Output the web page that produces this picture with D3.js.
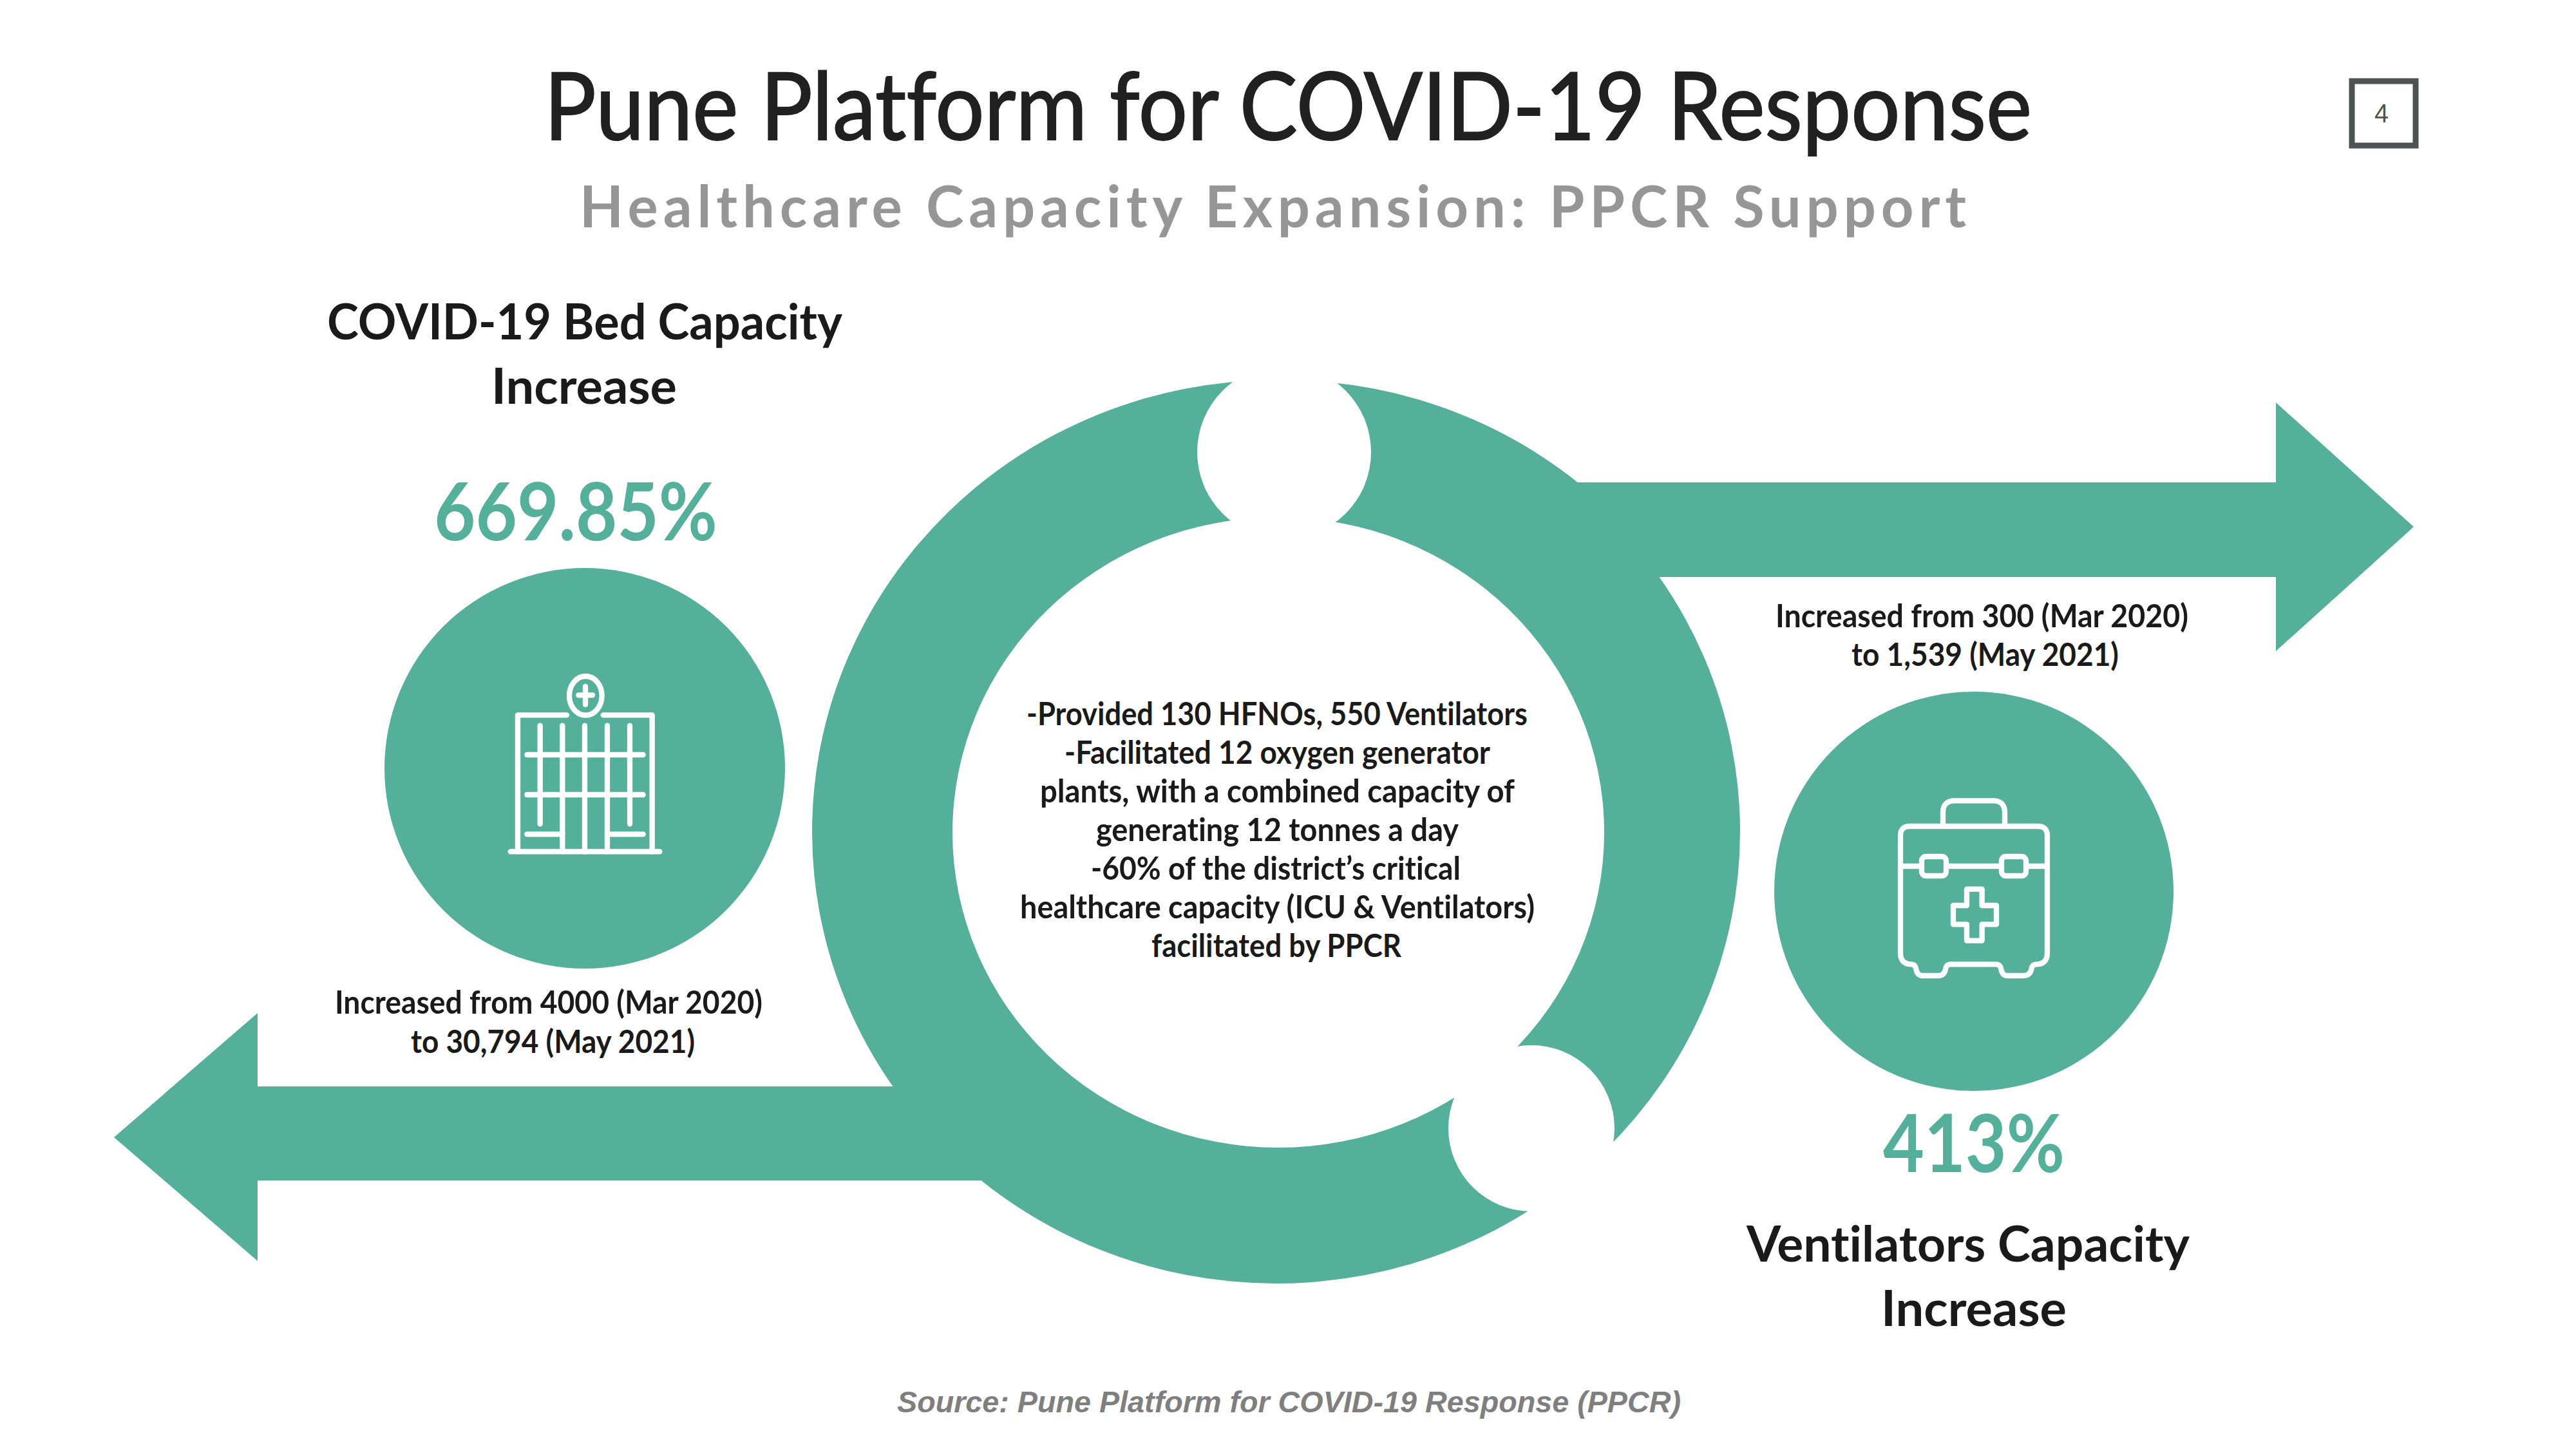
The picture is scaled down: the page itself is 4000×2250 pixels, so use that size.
<!DOCTYPE html>
<html>
<head>
<meta charset="utf-8">
<script src="https://cdn.jsdelivr.net/npm/d3@7/dist/d3.min.js"></script>
<style>
html, body { margin: 0; padding: 0; background: #fff; }
svg { display: block; }
text { font-variant-ligatures: none; }
</style>
</head>
<body>
<svg id="slide" width="4000" height="2250"></svg>
<script>
// slide content
var titleText = "Pune Platform for COVID-19 Response";
var subtitleText = "Healthcare Capacity Expansion: PPCR Support";
var pageNumber = "4";
var sourceText = "Source: Pune Platform for COVID-19 Response (PPCR)";
var bedHeading = ["COVID-19 Bed Capacity", "Increase"];
var bedPercent = "669.85%";
var bedDetail = ["Increased from 4000 (Mar 2020)", "to 30,794 (May 2021)"];
var ventHeading = ["Ventilators Capacity", "Increase"];
var ventPercent = "413%";
var ventDetail = ["Increased from 300 (Mar 2020)", "to 1,539 (May 2021)"];
var centerLines = [
    "-Provided 130 HFNOs, 550 Ventilators",
    "-Facilitated 12 oxygen generator",
    "plants, with a combined capacity of",
    "generating 12 tonnes a day",
    "-60% of the district\u2019s critical",
    "healthcare capacity (ICU & Ventilators)",
    "facilitated by PPCR"
];

var teal = "#54af9b";
var dark = "#1a1a1a";
var svg = d3.select("#slide");
var line = d3.line();

// x0 and x1 are the measured left and right ends of the text
function label(str, x0, x1, baseline, size, weight, fill, family, style) {
    return svg.append("text")
        .attr("x", x0)
        .attr("y", baseline)
        .attr("textLength", x1 - x0)
        .attr("lengthAdjust", "spacingAndGlyphs")
        .attr("font-family", family || "Lato")
        .attr("font-size", size)
        .attr("font-weight", weight)
        .attr("font-style", style || "normal")
        .attr("fill", fill)
        .text(str);
}

// upper right of the ring bulges a little more than the rest
svg.append("clipPath").attr("id", "upperRight")
    .append("rect").attr("x", 1994).attr("y", 500).attr("width", 900).attr("height", 396);

// arrows go under the ring
svg.append("path").attr("fill", teal)
    .attr("d", line([[2400, 749], [3534, 749], [3534, 625], [3748, 818], [3534, 1011], [3534, 896], [2400, 896]]) + "Z");
svg.append("path").attr("fill", teal)
    .attr("d", line([[1600, 1687], [400, 1687], [400, 1573], [177, 1766], [400, 1958], [400, 1833], [1600, 1833]]) + "Z");

// ring and the two white bites
svg.append("ellipse").attr("cx", 1981.5).attr("cy", 1291.5).attr("rx", 720.5).attr("ry", 701.5).attr("fill", teal);
svg.append("ellipse").attr("cx", 1993).attr("cy", 1291.5).attr("rx", 720.5).attr("ry", 701.5).attr("fill", teal)
    .attr("clip-path", "url(#upperRight)");
svg.append("ellipse").attr("cx", 1985).attr("cy", 1292.5).attr("rx", 506).attr("ry", 489.5).attr("fill", "#fff");
svg.append("circle").attr("cx", 1994).attr("cy", 702).attr("r", 135).attr("fill", "#fff");
svg.append("circle").attr("cx", 2378).attr("cy", 1752).attr("r", 129).attr("fill", "#fff");

// icon discs
svg.append("circle").attr("cx", 908).attr("cy", 1193).attr("r", 311).attr("fill", teal);
svg.append("circle").attr("cx", 3065).attr("cy", 1384).attr("r", 310).attr("fill", teal);

// hospital icon
var hosp = svg.append("g")
    .attr("transform", "translate(700,1000) scale(0.3333)")
    .attr("fill", "none").attr("stroke", "#fff").attr("stroke-width", 25)
    .attr("stroke-linecap", "round").attr("stroke-linejoin", "round");
var hospLines = [
    [[540, 331], [312, 331], [312, 967]],
    [[710, 331], [938, 331], [938, 967]],
    [[278, 967], [973, 967]],
    [[416, 380], [416, 838]],
    [[834, 380], [834, 838]],
    [[520, 380], [520, 967]],
    [[624, 380], [624, 967]],
    [[729, 380], [729, 967]],
    [[355, 516], [896, 516]],
    [[355, 702], [896, 702]],
    [[355, 886], [520, 886]],
    [[729, 886], [896, 886]],
    [[595, 238], [660, 238]],
    [[627, 198], [627, 282]]
];
hosp.selectAll("path").data(hospLines).enter().append("path").attr("d", function(d) { return line(d); });
hosp.append("ellipse").attr("cx", 628).attr("cy", 241).attr("rx", 76).attr("ry", 91);

// first aid kit icon
var kit = svg.append("g")
    .attr("transform", "translate(2900,1200) scale(0.3333)")
    .attr("fill", "none").attr("stroke", "#fff").attr("stroke-width", 25)
    .attr("stroke-linejoin", "round");
kit.append("path").attr("d", "M351,240 V185 Q351,130 406,130 H584 Q639,130 639,185 V240");
kit.append("path").attr("d", "M197,249 H793 Q837,249 837,293 V840 Q837,892 785,892 Q767,892 763,915 Q757,945 725,945 H650 Q628,945 622,915 Q618,892 600,892 H385 Q367,892 363,915 Q357,945 330,945 H255 Q232,945 226,915 Q222,892 205,892 Q153,892 153,840 V293 Q153,249 197,249 Z");
kit.append("path").attr("d", "M153,435 H252 M366,435 H624 M738,435 H837");
kit.append("rect").attr("x", 252).attr("y", 390).attr("width", 114).attr("height", 90).attr("rx", 20);
kit.append("rect").attr("x", 624).attr("y", 390).attr("width", 114).attr("height", 90).attr("rx", 20);
kit.append("path").attr("d", "M462,542 H533 V618 H600 V706 H533 V782 H462 V706 H399 V618 H462 Z");

// page number box
svg.append("rect").attr("x", 3652).attr("y", 126).attr("width", 99).attr("height", 100)
    .attr("fill", "none").attr("stroke", "#4d5353").attr("stroke-width", 9);
label(pageNumber, 3687, 3709, 190, 40, 400, "#4d5353", "Liberation Sans");

// header
label(titleText, 845, 3155, 217, 146, 400, "#212121")
    .attr("stroke", "#212121").attr("stroke-width", 2);
label(subtitleText, 900, 3061, 353, 90, 700, "#969696")
    .attr("letter-spacing", 8);

// left block
label(bedHeading[0], 508, 1308, 527, 76, 700, dark);
label(bedHeading[1], 763, 1051, 627, 76, 700, dark);
label(bedPercent, 674, 1114, 839, 124, 700, teal);
label(bedDetail[0], 520, 1184, 1574, 50, 700, dark);
label(bedDetail[1], 638, 1079, 1635, 50, 700, dark);

// right block
label(ventDetail[0], 2757, 3398, 974, 50, 700, dark);
label(ventDetail[1], 2875, 3290, 1034, 50, 700, dark);
label(ventPercent, 2924, 3206, 1820, 124, 700, teal);
label(ventHeading[0], 2712, 3400, 1959, 76, 700, dark);
label(ventHeading[1], 2921, 3209, 2059, 76, 700, dark);

// center text, measured extents per line
var centerLeft = [1594, 1653, 1615, 1702, 1694, 1584, 1788];
var centerRight = [2372, 2314, 2352, 2265, 2268, 2383, 2176];
centerLines.forEach(function(str, i) {
    label(str, centerLeft[i], centerRight[i], 1126 + i * 60, 50, 700, dark);
});

// source line
label(sourceText, 1393, 2610, 2193, 47, 700, "#7f7f7f", "Liberation Sans", "italic");
</script>
</body>
</html>
